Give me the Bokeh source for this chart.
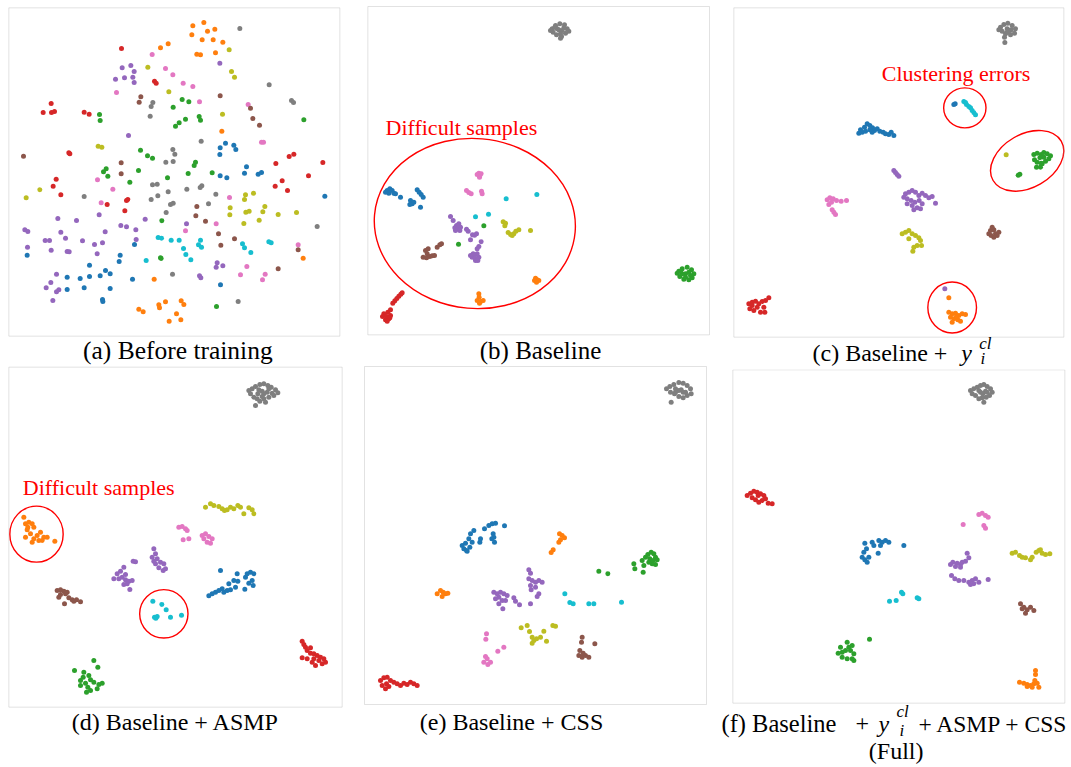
from bokeh.plotting import figure
from bokeh.layouts import row, column
from bokeh.models import Range1d, Label, BoxAnnotation
from bokeh.embed import file_html
from bokeh.resources import INLINE

# ---- class colours (tab10) ----
COLORS = {
    "blue": "#1f77b4", "orange": "#ff7f0e", "green": "#2ca02c", "red": "#d62728",
    "purple": "#9467bd", "brown": "#8c564b", "pink": "#e377c2", "gray": "#7f7f7f",
    "olive": "#bcbd22", "cyan": "#17becf",
}

# ================= (a) Before training : embedding coordinates =================
A_ORANGE = [(577,76),(610,66),(621,92),(643,86),(574,103),(605,118),(638,118),(667,125),(589,161),(600,163),
            (645,157),(480,142),(503,130),(664,392),(461,836),(908,773),(415,926),(428,934),(475,913),(477,922),
            (495,904),(542,901),(550,912),(528,940),(506,962),(541,958)]
A_GRAY = [(718,84),(806,253),(873,300),(879,306),(457,306),(452,318),(449,347),(602,422),(517,447),(523,461),
          (496,485),(518,483),(456,553),(470,551),(503,574),(452,597),(472,586),(510,612),(518,608),(497,636),
          (559,566),(599,561),(604,556),(646,581),(624,610),(251,588),(950,678),(516,821),(713,903)]
A_OLIVE = [(686,148),(442,200),(693,213),(702,230),(505,274),(666,341),(293,437),(304,440),(118,568),(77,592),
           (735,583),(759,578),(732,597),(689,622),(793,618),(688,643),(736,635),(746,632),(787,634),(833,642),
           (888,636),(730,669),(776,659)]
A_PINK = [(455,162),(495,204),(517,223),(548,248),(577,258),(348,276),(597,304),(743,312),(783,425),(789,425),
          (291,538),(337,566),(302,607),(687,591),(647,670),(555,691),(739,798),(720,823),(794,821),(786,838),(893,733)]
A_PURPLE = [(658,188),(365,202),(391,195),(401,213),(345,236),(372,232),(397,230),(401,246),(384,405),(73,688),
            (82,693),(81,740),(172,654),(228,660),(181,695),(195,713),(134,720),(147,720),(152,749),(200,753),
            (206,754),(246,721),(282,732),(306,727),(290,760),(314,694),(296,643),(361,675),(378,679),(406,688),
            (407,717),(434,656),(558,670),(650,787),(647,800),(667,796),(597,826),(601,832),(168,821),(151,846),
            (137,862),(168,874),(175,868),(157,900)]
A_RED = [(363,144),(462,242),(467,248),(152,309),(128,336),(153,336),(162,333),(251,335),(266,341),(205,457),
         (208,460),(167,536),(158,557),(181,583),(378,600),(382,597),(320,612),(373,631),(866,468),(880,461),
         (826,489),(967,486),(924,526),(845,541),(824,557),(861,570)]
A_BROWN = [(69,467),(421,289),(416,305),(659,286),(750,323),(757,354),(777,374),(362,487),(362,520),(589,618),
           (586,646),(615,662),(654,700),(661,734),(702,715),(893,748),(833,805)]
A_GREEN = [(297,342),(299,360),(545,297),(565,304),(518,320),(555,356),(536,367),(525,377),(596,348),(600,359),
           (420,449),(441,466),(456,473),(585,485),(581,495),(317,505),(309,514),(322,527),(414,510),(388,545),
           (501,532),(563,519),(635,517),(484,661),(480,772),(482,774),(910,358),(648,918)]
A_BLUE = [(675,428),(659,442),(658,462),(700,434),(706,447),(738,499),(732,518),(773,521),(783,516),(659,526),
          (679,532),(973,587),(402,732),(359,764),(356,783),(80,764),(267,794),(239,834),(267,828),(299,826),
          (315,810),(329,820),(200,830),(200,867),(251,862),(329,864),(306,897),(307,903),(396,836),(660,853)]
A_CYAN = [(473,711),(483,713),(512,719),(536,719),(549,744),(556,762),(571,778),(437,780),(600,719),(594,733),
          (603,740),(726,730),(732,742),(751,756),(805,724),(812,727)]

# ================= (b) Baseline =================
B_GRAY = [(575,85),(585,75),(598,70),(612,73),(620,85),(615,98),(603,108),(588,103),(578,95),(595,88),
          (605,90),(590,85),(610,82),(600,100),(625,92),(583,80),(570,90),(600,113)]
B_GREEN = [(955,812),(965,805),(980,800),(993,808),(1000,820),(995,832),(985,838),(970,836),(958,828),(950,818),
           (975,820),(985,815),(965,820),(990,825),(960,812),(975,830)]
B_RED = [(70,940),(82,935),(90,945),(85,955),(75,958),(66,948),(78,948),(88,952),(80,962),(90,928),
         (97,908),(103,901),(109,894),(115,887),(121,881),(125,877)]
B_BLUE = [(80,570),(88,565),(95,570),(100,578),(85,578),(75,575),(105,580),(120,590),(150,600),(155,610),
          (160,605),(148,612),(170,568),(176,575),(182,582),(188,590),(180,620)]
B_PINK = [(355,518),(358,525),(350,522),(362,520),(357,530),(318,570),(325,576),(332,580),(363,572),(365,580)]
B_CYAN = [(437,595),(529,582),(384,641),(345,649)]
B_PURPLE = [(288,675),(295,670),(283,682),(292,685),(300,680),(298,690),(285,690),(270,648),(278,660),(318,686),
            (323,692),(336,703),(342,704),(348,700),(330,718),(362,724),(335,770),(342,765),(350,760),(355,770),
            (345,775),(338,760),(350,745),(355,738),(330,765),(345,780),(352,780)]
B_GREEN_SMALL = [(370,676),(294,731)]
B_OLIVE = [(428,664),(435,668),(433,676),(443,696),(450,702),(460,700),(466,692),(475,688),(510,690),(455,705)]
B_BROWN = [(195,750),(200,760),(188,770),(198,772),(208,768),(215,766),(222,765),(230,740),(238,733),(243,730),(203,745)]
B_ORANGE = [(525,833),(530,838),(522,840),(535,840),(528,845),(355,880),(356,890),(350,900),(360,903),(368,900),(357,908)]

# ================= (c) Baseline + y_i^cl =================
C_GRAY = [(840,80),(850,72),(862,68),(875,75),(885,85),(882,98),(870,103),(855,100),(845,92),(835,88),
          (860,85),(868,90),(852,110),(853,126),(860,95),(872,88)]
C_BLUE = [(420,388),(425,395),(432,380),(440,370),(448,375),(456,382),(462,390),(470,385),(478,392),(488,395),
          (495,400),(505,402),(512,395),(520,405),(415,398),(435,392),(455,395),(448,388),(700,312),(704,310)]
C_CYAN = [(730,303),(738,312),(745,318),(750,322),(755,330),(760,337),(765,343),(735,306)]
C_GREEN = [(940,462),(950,458),(962,462),(970,456),(980,460),(990,466),(985,475),(975,482),(962,488),(950,485),
           (942,478),(958,472),(970,470),(960,500),(948,500),(898,521),(893,524),(965,490)]
C_OLIVE = [(857,463),(545,700),(555,695),(565,690),(575,700),(585,705),(595,712),(600,720),(590,735),(580,740),
           (577,752),(565,715),(603,735)]
C_PURPLE = [(520,510),(525,516),(530,522),(535,527),(555,580),(565,575),(575,570),(585,575),(595,585),(605,578),
            (615,585),(625,592),(635,588),(645,608),(560,595),(572,600),(583,605),(596,600),(605,610),(575,615),
            (560,610),(590,622),(600,625),(580,628),(550,590),(673,865)]
C_PINK = [(320,598),(328,592),(338,595),(348,600),(362,602),(378,600),(325,612),(335,628),(340,635),(345,642),(333,605)]
C_BROWN = [(810,690),(815,680),(820,688),(825,700),(830,705),(835,695),(820,710),(812,705),(805,700)]
C_RED = [(85,910),(95,905),(105,902),(115,910),(125,903),(135,900),(145,892),(130,920),(133,935),(120,935),
         (100,930),(88,925),(110,920),(95,915)]
C_ORANGE = [(685,892),(685,935),(695,940),(705,938),(715,945),(725,940),(735,942),(700,955),(712,958),(695,965),
            (720,962),(690,950),(708,948)]

# ================= (d) Baseline + ASMP =================
D_GRAY = [(745,90),(755,85),(765,78),(778,72),(790,70),(802,75),(812,80),(825,88),(832,97),(820,105),
          (805,110),(790,115),(778,122),(765,135),(760,110),(772,100),(785,92),(800,95),(815,98),(750,100),(795,125),
          (775,88),(790,100),(805,85),(770,115),(785,108)]
D_ORANGE = [(70,470),(75,490),(85,485),(95,490),(100,500),(80,508),(90,520),(75,530),(100,535),(110,525),
            (120,515),(130,530),(125,540),(115,540),(95,545),(163,542),(140,530),(82,500)]
D_OLIVE = [(615,440),(630,430),(640,435),(655,438),(665,445),(680,448),(690,440),(700,445),(712,435),(720,440),
           (730,460),(745,442),(755,448),(760,460),(672,450)]
D_PINK = [(535,500),(545,498),(555,505),(560,510),(548,538),(565,535),(605,525),(615,520),(625,528),(635,535),
          (630,548),(620,545),(610,535)]
D_PURPLE = [(460,565),(465,580),(455,590),(470,595),(480,605),(490,610),(495,625),(475,622),(465,610),(488,630),
            (460,602),(398,602),(405,604),(370,620),(360,632),(350,640),(340,655),(355,655),(365,650),(375,658),
            (385,662),(395,660),(380,670),(370,672),(388,687),(375,642)]
D_BLUE = [(660,630),(625,706),(635,700),(645,695),(655,690),(665,685),(670,695),(680,690),(690,688),(685,670),
          (700,660),(705,680),(710,640),(735,650),(740,640),(750,635),(760,640),(755,660),(745,668),(758,675),
          (733,686),(712,662)]
D_BROWN = [(170,690),(180,688),(190,692),(200,695),(175,710),(195,700),(205,712),(215,718),(228,718),(240,724),
           (192,730),(220,722),(180,702)]
D_CYAN = [(457,722),(484,732),(497,748),(462,770),(470,768),(510,770),(543,764),(466,773)]
D_RED = [(905,842),(910,852),(915,860),(920,870),(930,878),(940,880),(950,885),(960,890),(970,895),(975,905),
         (965,910),(945,915),(935,905),(920,895),(905,892),(940,895),(955,900),(930,862)]
D_GREEN = [(280,900),(292,920),(222,930),(250,935),(265,945),(240,960),(255,968),(270,958),(280,965),(295,972),
           (305,968),(290,985),(270,990),(258,995),(240,975),(248,950),(262,980)]

# ================= (e) Baseline + CSS =================
E_GRAY = [(918,85),(928,78),(940,72),(955,66),(968,68),(980,75),(990,85),(992,100),(980,105),(968,112),
          (955,108),(942,100),(930,95),(962,88),(945,85),(932,125),(975,95),(955,90),(968,95),(945,95)]
E_BLUE = [(305,555),(315,548),(310,565),(320,572),(328,560),(335,545),(325,535),(330,520),(340,510),(360,535),
          (358,545),(372,505),(385,495),(395,490),(405,488),(432,496),(398,520),(400,530),(402,545),(394,535),(318,570)]
E_ORANGE = [(597,520),(605,525),(612,532),(600,538),(595,545),(578,568),(572,576),
            (230,700),(240,690),(248,695),(255,700),(262,698),(245,708)]
E_GREEN = [(855,590),(862,582),(872,575),(880,580),(885,590),(890,598),(885,612),(875,610),(865,605),(845,600),
           (850,615),(820,610),(823,625),(848,635),(715,632),(742,640),(868,595),(878,600)]
E_PURPLE = [(505,628),(510,638),(505,655),(515,660),(525,665),(535,660),(545,665),(510,675),(525,680),(512,688),
            (535,700),(530,708),(510,730),(400,695),(410,700),(420,695),(430,700),(440,705),(415,710),(425,720),
            (435,720),(415,730),(427,745),(460,712),(465,722),(477,733),(405,715)]
E_CYAN = [(613,700),(628,726),(638,730),(685,730),(700,730),(783,725)]
E_OLIVE = [(482,802),(500,795),(507,813),(515,830),(520,840),(528,835),(540,830),(550,812),(558,842),(577,795),
           (585,797),(515,848)]
E_PINK = [(378,820),(376,836),(430,860),(412,872),(375,888),(380,895),(370,905),(382,912),(390,905)]
E_BROWN = [(665,830),(663,845),(658,870),(655,885),(665,890),(675,885),(685,890),(703,850),(668,878)]
E_RED = [(60,960),(70,952),(80,950),(90,960),(78,970),(65,975),(75,985),(100,965),(110,970),(120,975),
         (130,968),(140,972),(150,965),(160,970),(170,975),(85,978)]

# ================= (f) Full =================
F_GRAY = [(765,90),(775,85),(785,80),(795,75),(805,72),(815,78),(825,85),(830,95),(822,105),(812,110),
          (800,112),(805,125),(790,115),(780,105),(770,100),(795,95),(810,92),(790,90),(802,100),(815,95)]
F_RED = [(95,405),(105,398),(115,392),(125,395),(135,400),(145,405),(150,415),(140,420),(130,425),(120,418),
         (110,412),(158,428),(170,430),(128,405)]
F_PINK = [(790,462),(800,458),(810,465),(818,470),(743,492),(805,495),(810,503)]
F_BLUE = [(448,548),(470,545),(490,540),(500,545),(510,540),(520,545),(475,555),(495,555),(565,555),(445,575),
          (440,590),(448,598),(455,605),(460,590),(488,578),(453,565)]
F_OLIVE = [(890,578),(900,575),(912,585),(920,590),(930,592),(945,598),(950,590),(962,575),(970,570),(980,578),
           (990,582),(1003,580),(975,568)]
F_PURPLE = [(755,578),(760,592),(750,602),(740,605),(735,612),(725,608),(712,605),(705,612),(720,618),(735,620),
            (708,645),(718,655),(730,660),(745,660),(760,665),(770,660),(780,655),(775,670),(790,665),(818,657),(765,672)]
F_CYAN = [(558,695),(562,700),(522,722),(542,720),(605,712),(610,715)]
F_BROWN = [(915,730),(925,740),(935,748),(945,740),(955,750),(930,758),(920,745)]
F_GREEN = [(462,836),(395,845),(375,860),(368,878),(380,890),(395,895),(410,895),(415,880),(405,870),(390,870),
           (380,875),(400,860),(410,855),(415,900)]
F_ORANGE = [(960,930),(960,942),(912,965),(925,968),(935,972),(945,975),(955,970),(965,968),(970,980),(950,980),
            (935,978),(958,960)]

# ---- red ellipse annotations: (cx, cy, width, height, angle_deg) ----
B_ELLIPSES = [(343, 669, 604, 510, -5)]
C_ELLIPSES = [(733, 322, 127, 120, 0), (920, 481, 236, 160, 30), (695, 921, 146, 153, 0)]
D_ELLIPSES = [(108, 521, 160, 168, 0), (490, 760, 145, 145, 0)]

# ---- each panel's plotting box (left, right, top, bottom) in its embedding units ----
A_BOX = (25, 1018, 22, 1007)
B_BOX = (22, 1047, 18, 1003)
C_BOX = (40, 1030, 22, 1010)
D_BOX = (25, 1025, 20, 1040)
E_BOX = (12, 1038, 18, 1032)
F_BOX = (52, 1048, 28, 1028)

SERIF = "Liberation Serif"


def make_panel(w, h, xr, yr, box):
    p = figure(frame_width=w, frame_height=h, x_range=Range1d(*xr), y_range=Range1d(*yr),
               toolbar_location=None, output_backend="svg", min_border=0)
    p.axis.visible = False
    p.grid.visible = False
    p.outline_line_color = None
    p.background_fill_color = "white"
    p.border_fill_color = "white"
    p.add_layout(BoxAnnotation(left=box[0], right=box[1], top=box[2], bottom=box[3],
                               fill_color=None, fill_alpha=0, line_color="#a0a0a0", line_width=1))
    return p


def dots(p, pts, cname, size=5):
    p.scatter([q[0] for q in pts], [q[1] for q in pts], size=size, fill_color=COLORS[cname],
              line_color=None)


def ellipses(p, ell):
    p.ellipse(x=[e[0] for e in ell], y=[e[1] for e in ell], width=[e[2] for e in ell],
              height=[e[3] for e in ell], angle=[e[4] for e in ell], angle_units="deg",
              fill_color=None, line_color="#ff0000", line_width=1.4)


def lab(p, x, y, text, size, align="left", style="normal", color="black"):
    p.add_layout(Label(x=x, y=y, text=text, text_font=SERIF, text_font_size=f"{size}px",
                       text_align=align, text_baseline="alphabetic", text_font_style=style,
                       text_color=color))


# (a)  canvas: page x 0..353, y 0..365
pa = make_panel(353, 365, (0, 1059), (1095, 0), A_BOX)
for pts, c in [(A_ORANGE, "orange"), (A_GRAY, "gray"), (A_OLIVE, "olive"), (A_PINK, "pink"),
               (A_PURPLE, "purple"), (A_RED, "red"), (A_BROWN, "brown"), (A_GREEN, "green"),
               (A_BLUE, "blue"), (A_CYAN, "cyan")]:
    dots(pa, pts, c)
lab(pa, 532, 1051, "(a) Before training", 25.5, "center")

# (b)  canvas: page x 353..720, y 0..365
pb = make_panel(367, 365, (-21, 1080), (1095, 0), B_BOX)
for pts, c in [(B_GRAY, "gray"), (B_GREEN, "green"), (B_RED, "red"), (B_BLUE, "blue"), (B_PINK, "pink"),
               (B_CYAN, "cyan"), (B_PURPLE, "purple"), (B_GREEN_SMALL, "green"), (B_OLIVE, "olive"),
               (B_BROWN, "brown"), (B_ORANGE, "orange")]:
    dots(pb, pts, c)
ellipses(pb, B_ELLIPSES)
lab(pb, 75, 382, "Difficult samples", 22, color="#ff0000")
lab(pb, 540, 1049, "(b) Baseline", 25, "center")

# (c)  canvas: page x 720..1071, y 0..369
pc = make_panel(351, 369, (0, 1053), (1107, 0), C_BOX)
for pts, c in [(C_GRAY, "gray"), (C_BLUE, "blue"), (C_CYAN, "cyan"), (C_GREEN, "green"), (C_OLIVE, "olive"),
               (C_PURPLE, "purple"), (C_PINK, "pink"), (C_BROWN, "brown"), (C_RED, "red"),
               (C_ORANGE, "orange")]:
    dots(pc, pts, c)
ellipses(pc, C_ELLIPSES)
lab(pc, 484, 218, "Clustering errors", 22, color="#ff0000")
lab(pc, 276, 1057, "(c) Baseline +", 24)
lab(pc, 722, 1057, "y", 24, style="italic")
lab(pc, 776, 1028, "cl", 17, style="italic")
lab(pc, 780, 1074, "i", 17, style="italic")

# (d)  canvas: page x 0..353, y 365..767
pd_ = make_panel(353, 402, (0, 1059), (1221, 15), D_BOX)
for pts, c in [(D_GRAY, "gray"), (D_ORANGE, "orange"), (D_OLIVE, "olive"), (D_PINK, "pink"),
               (D_PURPLE, "purple"), (D_BLUE, "blue"), (D_BROWN, "brown"), (D_CYAN, "cyan"),
               (D_RED, "red"), (D_GREEN, "green")]:
    dots(pd_, pts, c)
ellipses(pd_, D_ELLIPSES)
lab(pd_, 67, 380, "Difficult samples", 22, color="#ff0000")
lab(pd_, 525, 1084, "(d) Baseline + ASMP", 24, "center")

# (e)  canvas: page x 353..720, y 365..767
pe = make_panel(367, 402, (-21, 1080), (1221, 15), E_BOX)
for pts, c in [(E_GRAY, "gray"), (E_BLUE, "blue"), (E_ORANGE, "orange"), (E_GREEN, "green"),
               (E_PURPLE, "purple"), (E_CYAN, "cyan"), (E_OLIVE, "olive"), (E_PINK, "pink"),
               (E_BROWN, "brown"), (E_RED, "red")]:
    dots(pe, pts, c)
lab(pe, 453, 1084, "(e) Baseline + CSS", 24, "center")

# (f)  canvas: page x 720..1071, y 369..767
pf = make_panel(351, 398, (15, 1068), (1221, 27), F_BOX)
for pts, c in [(F_GRAY, "gray"), (F_RED, "red"), (F_PINK, "pink"), (F_BLUE, "blue"), (F_OLIVE, "olive"),
               (F_PURPLE, "purple"), (F_CYAN, "cyan"), (F_BROWN, "brown"), (F_GREEN, "green"),
               (F_ORANGE, "orange")]:
    dots(pf, pts, c)
lab(pf, 18, 1090, "(f) Baseline", 24.5)
lab(pf, 420, 1090, "+", 24)
lab(pf, 489, 1090, "y", 24, style="italic")
lab(pf, 543, 1053, "cl", 17, style="italic")
lab(pf, 552, 1110, "i", 17, style="italic")
lab(pf, 609, 1090, "+ ASMP + CSS", 23.5)
lab(pf, 542, 1172, "(Full)", 24, "center")

layout = row(column(pa, pd_), column(pb, pe), column(pc, pf))
open("out.html", "w").write(file_html(layout, INLINE))
